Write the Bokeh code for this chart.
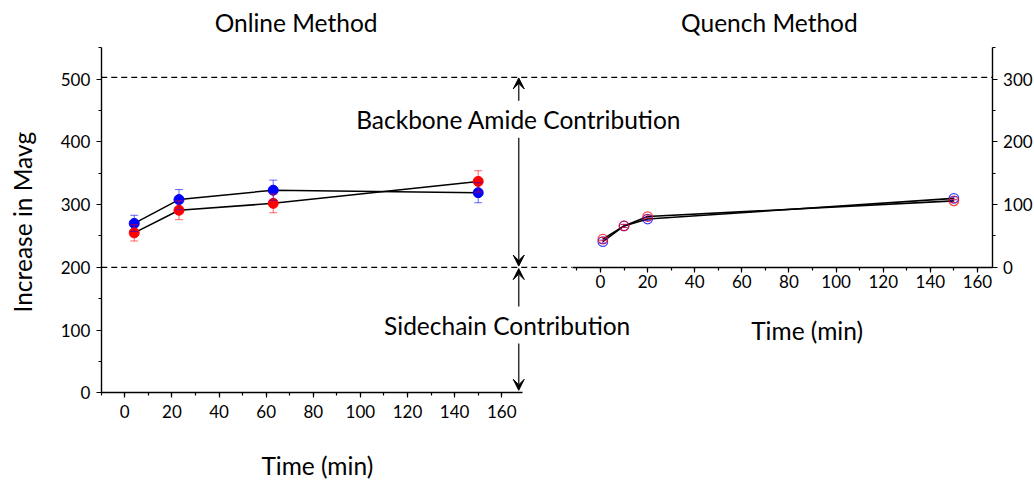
from bokeh.plotting import figure
from bokeh.models import (Range1d, LinearAxis, SingleIntervalTicker, Label,
                          Arrow, VeeHead, Whisker, TeeHead, ColumnDataSource)
from bokeh.embed import file_html
from bokeh.resources import INLINE

# ---------------- data ----------------
online_time = [4, 23, 63, 150]
online_blue = [270, 308, 323, 319]
online_blue_err = [13, 16, 16, 16]
online_red = [255, 291, 302, 337]
online_red_err = [13, 15, 15, 17]

quench_time = [1, 10, 20, 150]
quench_blue = [41, 66, 77, 110]
quench_blue_err = [2.5, 2.5, 2.5, 2.5]
quench_red = [45, 66, 81, 106]
quench_red_err = [2.5, 2.5, 2.5, 2.5]

backbone_level = 503      # top dashed line (online scale)
sidechain_level = 200     # bottom dashed line (online scale) = quench zero

FONT = "Lato"
BIG = "24.5px"
TICK = "17px"
BLUE = "#0000ff"
RED = "#ff0000"

# one frame covering the whole canvas; every axis is pinned with fixed_location
X0, X1 = -52.76, 386.12
Y0, Y1 = -141.4, 625.4
Q_SHIFT = 201.9
p = figure(width=1034, height=481,
           x_range=Range1d(X0, X1), y_range=Range1d(Y0, Y1),
           output_backend="svg", toolbar_location=None, min_border=0)
p.extra_x_ranges = {"q": Range1d(X0 - Q_SHIFT, X1 - Q_SHIFT)}
p.extra_y_ranges = {"q": Range1d(Y0 - sidechain_level, Y1 - sidechain_level)}
p.outline_line_color = None
p.xgrid.visible = False
p.ygrid.visible = False
p.background_fill_color = "white"
p.border_fill_color = "white"


def style_axis(ax, standoff):
    ax.axis_line_color = "black"
    ax.axis_line_width = 1.4
    ax.major_tick_in = 0
    ax.major_tick_out = 5
    ax.minor_tick_in = 0
    ax.minor_tick_out = 3
    ax.major_tick_line_color = "black"
    ax.minor_tick_line_color = "black"
    ax.major_tick_line_width = 1.2
    ax.minor_tick_line_width = 1.2
    ax.major_label_text_font = FONT
    ax.major_label_text_font_size = TICK
    ax.major_label_text_color = "black"
    ax.major_label_standoff = standoff


# left (online) axes
xa = p.xaxis[0]
xa.ticker = SingleIntervalTicker(interval=20, num_minor_ticks=2)
xa.bounds = (-10, 169)
xa.fixed_location = 0
style_axis(xa, 7)

ya = p.yaxis[0]
ya.ticker = SingleIntervalTicker(interval=100, num_minor_ticks=2)
ya.bounds = (0, 550)
ya.fixed_location = -10
style_axis(ya, 6)

# right (quench) axes
qy = LinearAxis(x_range_name="q", y_range_name="q", bounds=(0, 350), fixed_location=166.2,
                ticker=SingleIntervalTicker(interval=100, num_minor_ticks=2))
style_axis(qy, 6)
p.add_layout(qy, "right")

qx = LinearAxis(x_range_name="q", y_range_name="q", fixed_location=0, bounds=(-12, 166.2),
                ticker=SingleIntervalTicker(interval=20, num_minor_ticks=2))
style_axis(qx, 3)
p.add_layout(qx, "below")

# dashed reference lines (from left axis to right axis)
p.segment(x0=[-10, -10], y0=[backbone_level, sidechain_level],
          x1=[166.2 + Q_SHIFT, -12 + Q_SHIFT], y1=[backbone_level, sidechain_level],
          line_color="black", line_width=1.2, line_dash="6 4")


# ---------------- error bars ----------------
def whisker(x, y, err, color, xr="default", yr="default", size=8):
    src = ColumnDataSource(dict(base=x, lower=[a - e for a, e in zip(y, err)],
                                upper=[a + e for a, e in zip(y, err)]))
    w = Whisker(source=src, base="base", lower="lower", upper="upper",
                line_color=color, line_alpha=0.6, line_width=1,
                upper_head=TeeHead(size=size, line_color=color, line_alpha=0.6, line_width=1),
                lower_head=TeeHead(size=size, line_color=color, line_alpha=0.6, line_width=1),
                x_range_name=xr, y_range_name=yr, level="glyph")
    p.add_layout(w)


# ---------------- online data ----------------
p.line(online_time, online_blue, line_color="black", line_width=1.5)
p.line(online_time, online_red, line_color="black", line_width=1.5)
whisker(online_time, online_blue, online_blue_err, BLUE)
whisker(online_time, online_red, online_red_err, RED)
p.scatter(online_time, online_blue, size=10, fill_color=BLUE, line_color=BLUE)
p.scatter(online_time, online_red, size=10, fill_color=RED, line_color=RED)

# ---------------- quench data ----------------
p.line(quench_time, quench_blue, line_color="black", line_width=1.6,
       x_range_name="q", y_range_name="q")
p.line(quench_time, quench_red, line_color="black", line_width=1.6,
       x_range_name="q", y_range_name="q")
whisker(quench_time, quench_blue, quench_blue_err, BLUE, "q", "q", 7)
whisker(quench_time, quench_red, quench_red_err, RED, "q", "q", 7)
p.scatter(quench_time, quench_blue, size=9.5, fill_color=None, line_color=BLUE,
          line_width=1.3, line_alpha=0.75, x_range_name="q", y_range_name="q")
p.scatter(quench_time, quench_red, size=9.5, fill_color=None, line_color=RED,
          line_width=1.3, line_alpha=0.75, x_range_name="q", y_range_name="q")

# ---------------- arrows & annotations ----------------
ARROW_X = 167.2
for y0, y1 in ((sidechain_level + 2, backbone_level - 1), (4, sidechain_level - 2)):
    p.add_layout(Arrow(x_start=ARROW_X, y_start=y0, x_end=ARROW_X, y_end=y1,
                       line_color="#333333", line_width=1.5,
                       start=VeeHead(size=11, fill_color="black", line_color="black"),
                       end=VeeHead(size=11, fill_color="black", line_color="black")))


def label(text, x, y, xr="default", bg=None, angle=0):
    lab = Label(text=text, x=x, y=y, x_range_name=xr, text_align="center",
                text_baseline="middle", text_font=FONT, text_font_size=BIG,
                text_color="black", angle=angle, angle_units="deg")
    if bg:
        lab.background_fill_color = bg
        lab.padding = 4
    p.add_layout(lab)


label("Backbone Amide Contribution", ARROW_X, 436, bg="white")
label("Sidechain Contribution", 162.3, 108, bg="white")
label("Online Method", 72.7, 591)
label("Quench Method", 71.7, 591, xr="q")
label("Time (min)", 81.7, -116)
label("Time (min)", 87.7, 99, xr="q")
label("Increase in Mavg", -43.4, 272, angle=90)

open("out.html", "w").write(file_html(p, INLINE))
